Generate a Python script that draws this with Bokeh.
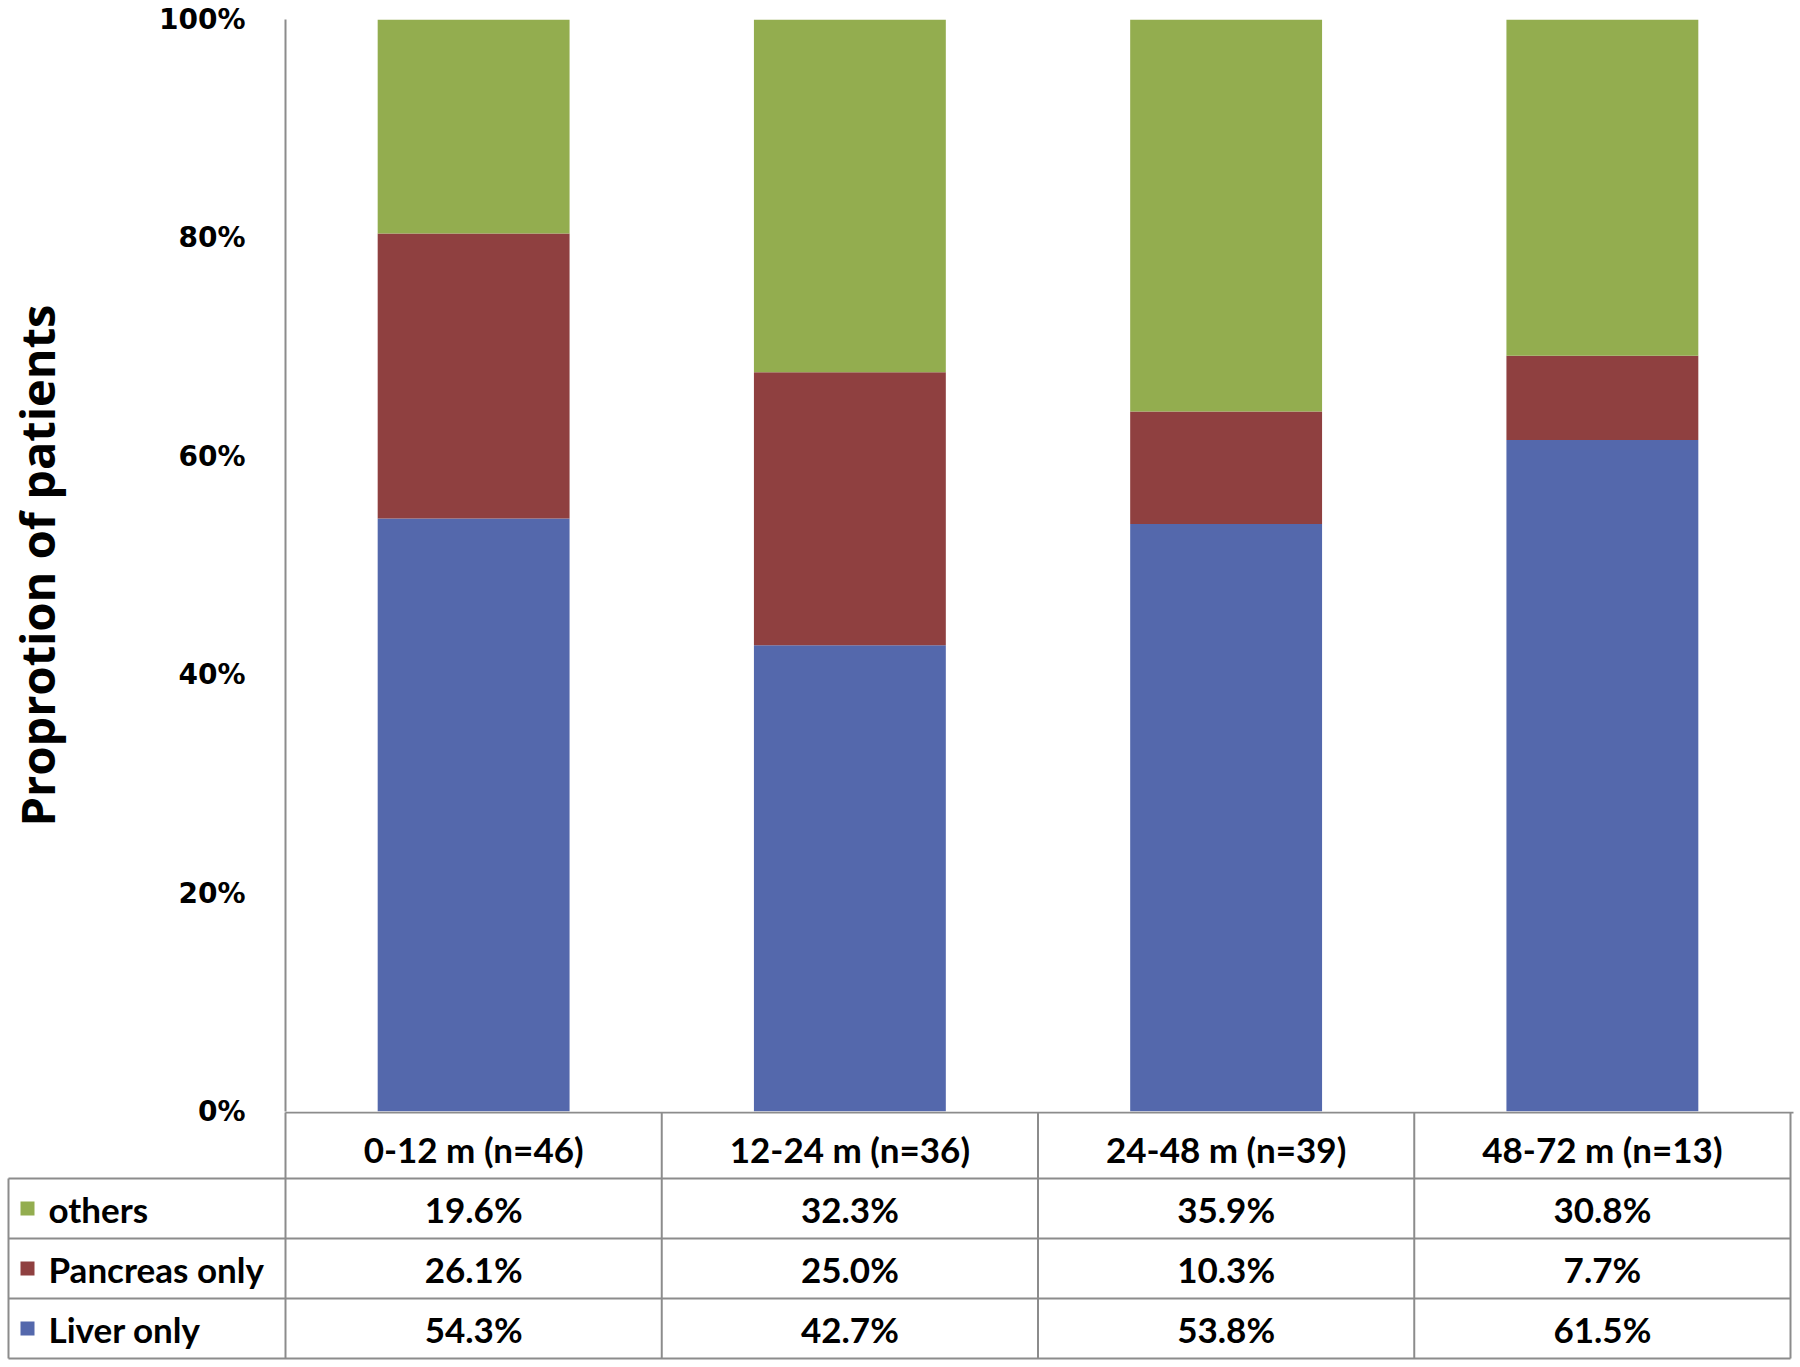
from bokeh.plotting import figure
from bokeh.models import Range1d, FactorRange, FixedTicker, PrintfTickFormatter, ColumnDataSource
from bokeh.core.properties import value
from bokeh.embed import file_html
from bokeh.resources import INLINE

# ---------------- data ----------------
categories = ["0-12 m (n=46)", "12-24 m (n=36)", "24-48 m (n=39)", "48-72 m (n=13)"]
series_names = ["Liver only", "Pancreas only", "others"]
liver_only = [54.3, 42.7, 53.8, 61.5]
pancreas_only = [26.1, 25.0, 10.3, 7.7]
others = [19.6, 32.3, 35.9, 30.8]
y_ticks = [0, 20, 40, 60, 80, 100]
colors = ["#5468AC", "#8F4040", "#93AD4F"]

GRID = "#8c8c8c"
FRAME_L = 285
FRAME_R = 1790
TOTAL_W = 1794
CAT_PX = (FRAME_R - FRAME_L) / len(categories)
BOTTOM_PAD = 20

# ---------------- chart ----------------
src = ColumnDataSource(dict(cat=categories, liver=liver_only, pancreas=pancreas_only, others=others))

p = figure(x_range=FactorRange(*categories, range_padding=0), y_range=Range1d(0, 100),
           width=TOTAL_W, height=1111 + BOTTOM_PAD, output_backend="svg", toolbar_location=None,
           min_border_left=FRAME_L, min_border_right=TOTAL_W - FRAME_R, min_border_top=19,
           min_border_bottom=BOTTOM_PAD)
p.vbar_stack(["liver", "pancreas", "others"], x="cat", width=0.51, color=colors,
             line_color=None, source=src)
p.xaxis.visible = False
p.xgrid.visible = False
p.ygrid.visible = False
p.outline_line_color = None
p.yaxis.ticker = FixedTicker(ticks=y_ticks)
p.yaxis.formatter = PrintfTickFormatter(format="%d%%")
p.yaxis.axis_line_color = GRID
p.yaxis.axis_line_width = 2
p.yaxis.major_tick_line_color = None
p.yaxis.minor_tick_line_color = None
p.yaxis.major_label_standoff = 34
p.yaxis.major_label_text_font = "DejaVu Sans"
p.yaxis.major_label_text_font_style = "bold"
p.yaxis.major_label_text_font_size = "28px"
p.yaxis.major_label_text_color = "black"
p.yaxis.axis_label = "Proprotion of patients"
p.yaxis.axis_label_text_font = "Open Sans"
p.yaxis.axis_label_text_font_style = "bold"
p.yaxis.axis_label_text_font_size = "47px"
p.yaxis.axis_label_text_line_height = 0.9
p.yaxis.axis_label_text_color = "black"
p.yaxis.axis_label_standoff = 87

# ---------------- data table ----------------
HEADER_H = 66
ROW_H = 60
n_rows = len(series_names)
table_h = HEADER_H + ROW_H * n_rows
x_start = -FRAME_L / CAT_PX
x_end = len(categories) + (TOTAL_W - FRAME_R) / CAT_PX
t = figure(x_range=Range1d(x_start, x_end), y_range=Range1d(-(table_h + 4), 1),
           width=TOTAL_W, height=table_h + 5, output_backend="svg", toolbar_location=None,
           min_border=0)
t.xaxis.visible = False
t.yaxis.visible = False
t.grid.visible = False
t.outline_line_color = None
t.background_fill_color = None
t.border_fill_color = None
t.styles = {"margin-top": f"-{BOTTOM_PAD}px"}

left_edge = x_start + 8 / CAT_PX
n_cat = len(categories)
# horizontal lines
hx0, hx1, hy = [0], [n_cat + 3 / CAT_PX], [0]
for k in range(n_rows + 1):
    hx0.append(left_edge); hx1.append(n_cat); hy.append(-(HEADER_H + ROW_H * k))
t.segment(x0=hx0, y0=hy, x1=hx1, y1=hy, line_color=GRID, line_width=2)
# vertical lines
vx = [left_edge] + list(range(n_cat + 1))
vy0 = [-HEADER_H] + [0] * (n_cat + 1)
vy1 = [-table_h] * (n_cat + 2)
t.segment(x0=vx, y0=vy0, x1=vx, y1=vy1, line_color=GRID, line_width=2)

TABLE_FONT = value("Lato")
FS = "35px"
# header: category names
t.text(x=[i + 0.5 for i in range(n_cat)], y=[-HEADER_H / 2 - 3] * n_cat, text=categories,
       text_font=TABLE_FONT, text_font_style="bold", text_font_size=FS,
       text_align="center", text_baseline="middle", text_color="black")

# rows: others, Pancreas only, Liver only (top to bottom)
row_series = [("others", others, colors[2]),
              ("Pancreas only", pancreas_only, colors[1]),
              ("Liver only", liver_only, colors[0])]
for r, (name, vals, col) in enumerate(row_series):
    yc = -(HEADER_H + ROW_H * r + ROW_H / 2)
    t.text(x=[i + 0.5 for i in range(n_cat)], y=[yc] * n_cat, text=[f"{v:.1f}%" for v in vals],
           text_font=TABLE_FONT, text_font_style="bold", text_font_size=FS,
           text_align="center", text_baseline="middle", text_color="black")
    t.scatter(x=[x_start + 27 / CAT_PX], y=[yc], marker="square", size=14,
              fill_color=col, line_color=None)
    t.text(x=[x_start + 48 / CAT_PX], y=[yc], text=[name],
           text_font=TABLE_FONT, text_font_style="bold", text_font_size=FS,
           text_align="left", text_baseline="middle", text_color="black")

open("out.html", "w").write(file_html([p, t], INLINE))
